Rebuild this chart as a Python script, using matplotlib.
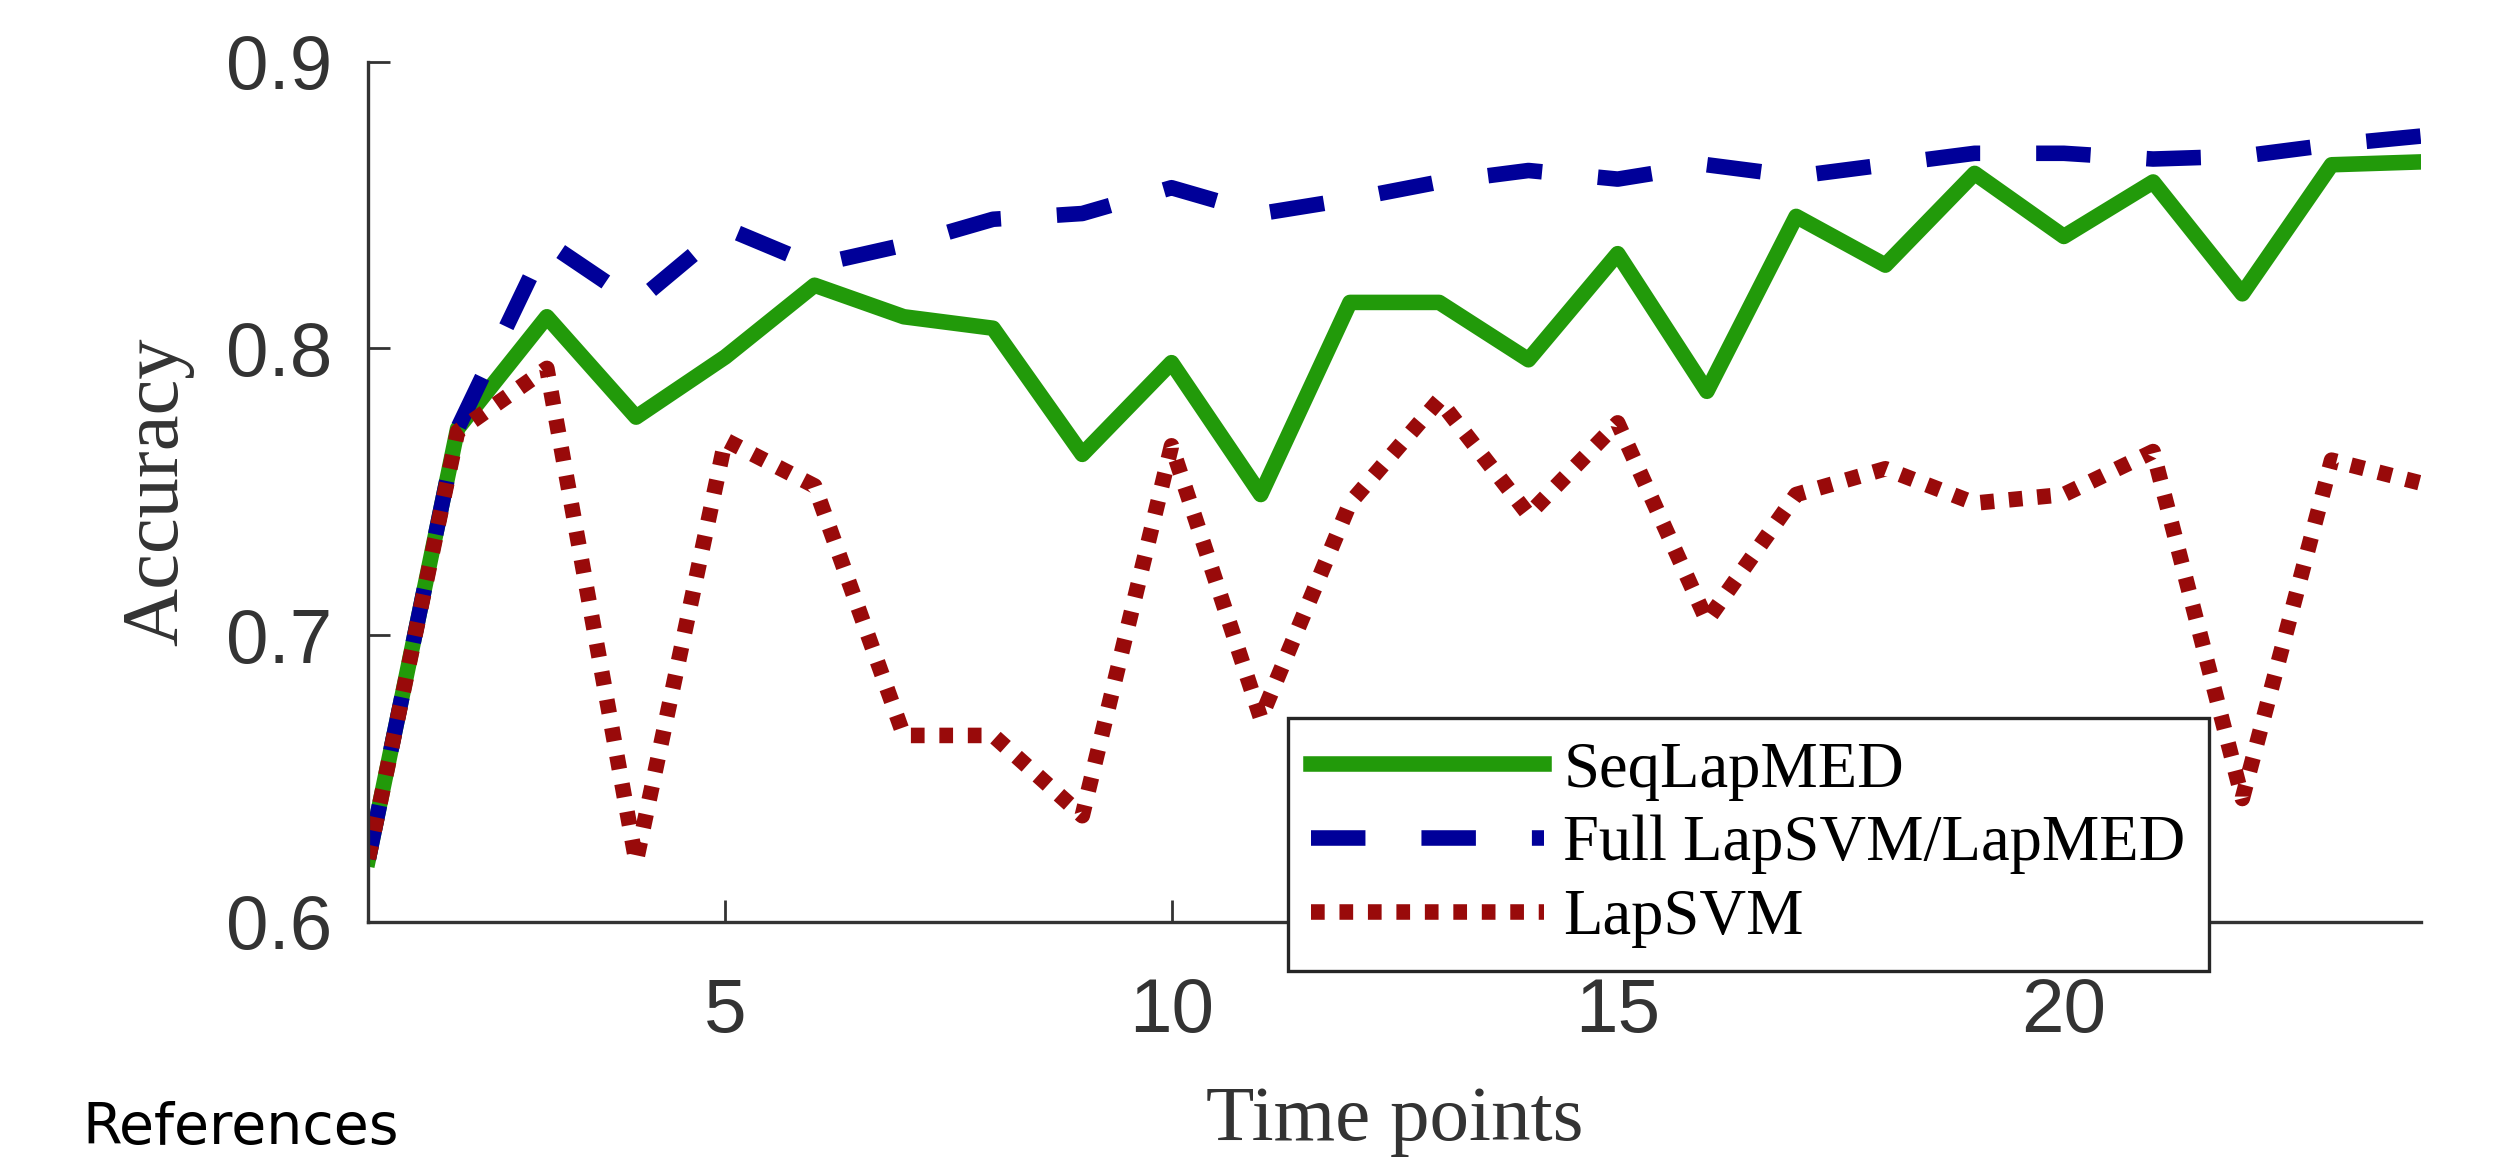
import matplotlib
matplotlib.use("Agg")
import matplotlib.pyplot as plt
import numpy as np

# accuracy over time points
time_points = np.arange(1, 25)
seq_lapmed = [0.622, 0.772, 0.811, 0.776, 0.797, 0.822, 0.811, 0.807, 0.763, 0.795,
              0.749, 0.816, 0.816, 0.796, 0.833, 0.785, 0.846, 0.829, 0.861, 0.839,
              0.858, 0.819, 0.864, 0.865]
full_lapsvm = [0.622, 0.772, 0.837, 0.816, 0.842, 0.829, 0.836, 0.845, 0.847, 0.856,
               0.847, 0.852, 0.858, 0.862, 0.859, 0.864, 0.860, 0.864, 0.868, 0.868,
               0.866, 0.867, 0.871, 0.874]
lapsvm = [0.622, 0.771, 0.793, 0.621, 0.768, 0.752, 0.665, 0.665, 0.637, 0.766,
          0.671, 0.746, 0.782, 0.742, 0.774, 0.705, 0.749, 0.758, 0.746, 0.749,
          0.764, 0.643, 0.761, 0.753]
labels = ["SeqLapMED", "Full LapSVM/LapMED", "LapSVM"]
xticks = [5, 10, 15, 20]
yticks = [0.6, 0.7, 0.8, 0.9]

green = '#229a0a'
blue = '#000099'
red = '#990a0a'
axcol = '#333333'

fig = plt.figure(figsize=(25.06, 11.61), dpi=100)
ax = fig.add_axes([0.147, 0.206, 0.819, 0.741])

lw = 11.2
ax.plot(time_points, seq_lapmed, color=green, lw=lw, solid_joinstyle='round', label=labels[0])
ax.plot(time_points, full_lapsvm, color=blue, lw=lw, dashes=(3.5, 3.6), label=labels[1])
ax.plot(time_points, lapsvm, color=red, lw=lw, dashes=(0.88, 0.95), label=labels[2])

ax.set_xlim(1, 24)
ax.set_ylim(0.6, 0.9)
ax.set_xticks(xticks)
ax.set_yticks(yticks)
ax.set_yticklabels(["%.1f" % v for v in yticks])

for s in ['top', 'right']:
    ax.spines[s].set_visible(False)
for s in ['left', 'bottom']:
    ax.spines[s].set_linewidth(2.4)
    ax.spines[s].set_color(axcol)

ax.tick_params(direction='in', length=16, width=2, color=axcol, labelcolor=axcol)
ax.tick_params(axis='x', pad=40)
ax.tick_params(axis='y', pad=26)
for t in ax.get_xticklabels() + ax.get_yticklabels():
    t.set_fontfamily('Liberation Sans')
    t.set_fontsize(55)

ax.set_xlabel("Time points", fontfamily='Liberation Serif', fontsize=57, color=axcol)
ax.set_ylabel("Accuracy", fontfamily='Liberation Serif', fontsize=58, color=axcol)
ax.xaxis.set_label_coords(0.5, -0.19)
ax.yaxis.set_label_coords(-0.085, 0.5)

leg = ax.legend(loc='upper left', bbox_to_anchor=(0.514, 0.3816), bbox_transform=fig.transFigure,
                borderaxespad=0, prop={'family': 'Liberation Serif', 'size': 46.5},
                handlelength=3.6, handletextpad=0.3, borderpad=0.36, labelspacing=0.22,
                fancybox=False, framealpha=1.0, edgecolor='#262626')
leg.get_frame().set_linewidth(2.4)

fig.text(0.033, 0.004, "References", fontfamily='DejaVu Sans', fontsize=41, color='black',
         ha='left', va='bottom')

fig.savefig("out.png", dpi=100, facecolor='white')
